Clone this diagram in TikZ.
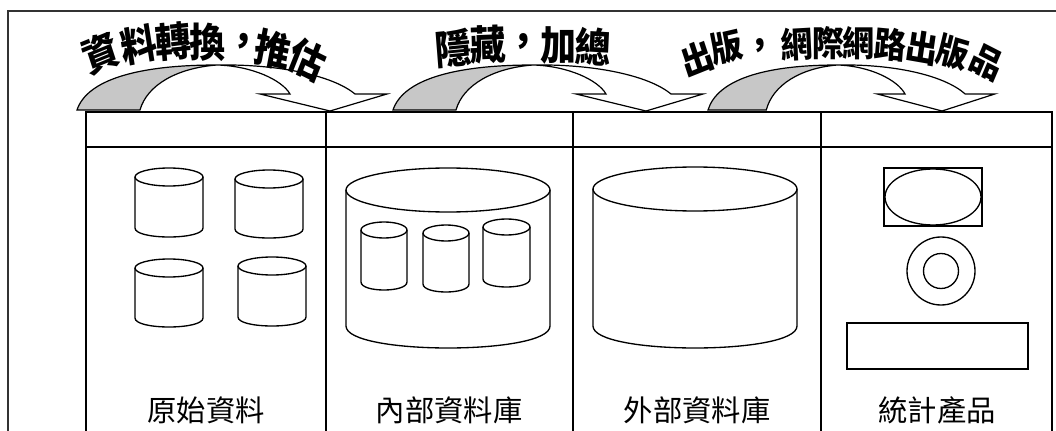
\documentclass[tikz,border=0pt]{standalone}
\usepackage{fontspec}
\newfontfamily\cjk{Noto Sans CJK TC}
\newfontfamily\cjkt{Noto Sans CJK TC}[Language=Chinese Traditional]
\newcommand\mkcyl[5]{%
  \draw[shp] (#1,#3) -- (#1,#4) .. controls (#1,{#4+1.333*#5}) and (#2,{#4+1.333*#5}) .. (#2,#4) -- (#2,#3);
  \draw[shp] ({(#1+#2)/2},#3) ellipse [x radius={(#2-#1)/2}, y radius=#5];}
\tikzset{
  curvarrow/.pic={
    \fill[black!22] (0,110) .. controls (10,80) and (60,65) .. (140,65) .. controls (100,68) and (70,85) .. (63,110) -- cycle;
    \fill[white] (140,65) .. controls (200,64) and (255,75) .. (278,94) -- (310,94) -- (253,111) -- (183,94) -- (213,94) .. controls (205,80) and (175,66) .. (140,65) -- cycle;
    \draw[arw] (0,110) .. controls (10,80) and (60,65) .. (140,65) .. controls (200,64) and (255,75) .. (278,94) -- (310,94) -- (253,111) -- (183,94) -- (213,94) .. controls (205,80) and (175,66) .. (140,65) .. controls (100,68) and (70,85) .. (63,110) -- cycle;
  }}
\begin{document}
\begin{tikzpicture}[x=0.75pt,y=-0.75pt,
  frame/.style={line width=1.5pt, black!80},
  tbl/.style={line width=1.5pt},
  shp/.style={line width=1pt},
  arw/.style={line width=0.9pt, line join=miter},
  wa/.style={font=\cjkt\bfseries\fontsize{27}{27}\selectfont, inner sep=0pt, yscale=1.12},
  wb/.style={font=\cjkt\bfseries\fontsize{24}{24}\selectfont, inner sep=0pt, yscale=1.1},
  lab/.style={font=\cjk\fontsize{22}{22}\selectfont, inner sep=0pt}]
\clip (0,0) rectangle (1056,431);
\fill[white] (0,0) rectangle (1056,431);
% outer frame
\draw[frame] (8,445) -- (8,11) -- (1070,11);
% table
\draw[tbl] (86,445) -- (86,112) -- (1052,112) -- (1052,445);
\draw[tbl] (86,147) -- (1052,147);
\foreach \x in {326,573,821} \draw[tbl] (\x,112) -- (\x,445);
% curved arrows
\path (77,0) pic {curvarrow};
\path (393,0) pic {curvarrow};
\path (708,0) pic[xscale=0.925] {curvarrow};
% arched labels
\node[wa,rotate=20] (a1) at (101,53) {資};
\node[wa,rotate=10] (a2) at (139,45) {料};
\node[wa,rotate=5] (a3) at (173,42) {轉};
\node[wa,rotate=0] (a4) at (207,42) {換};
\node[wa,rotate=-5] (a5) at (243,44) {，};
\node[wa,rotate=-12] (a6) at (273,50) {推};
\node[wa,rotate=-24] (a7) at (308,60) {估};
\node[wa,rotate=5] (b1) at (453,48) {隱};
\node[wa,rotate=2] (b2) at (488,45) {藏};
\node[wa] (b3) at (523,44) {，};
\node[wa] (b4) at (558,45) {加};
\node[wa,rotate=-3] (b5) at (593,47) {總};
\node[wb,rotate=20] (c1) at (697,59) {出};
\node[wb,rotate=12] (c2) at (727,47) {版};
\node[wb,rotate=6] (c3) at (760,48) {，};
\node[wb,rotate=3] (c4) at (797,44) {網};
\node[wb] (c5) at (828,43) {際};
\node[wb] (c6) at (858,43) {網};
\node[wb,rotate=-5] (c7) at (890,45) {路};
\node[wb,rotate=-9] (c8) at (922,48) {出};
\node[wb,rotate=-15] (c9) at (953,53) {版};
\node[wb,rotate=-25] (c10) at (987,62) {品};
% column 1: four cylinders
\mkcyl{135}{203}{177}{228}{9}
\mkcyl{235}{303}{179}{229}{9}
\mkcyl{135}{203}{268}{318}{9}
\mkcyl{238}{306}{266}{317}{9}
% column 2
\mkcyl{346}{550}{190}{326}{22}
\mkcyl{361}{407}{230}{282}{8}
\mkcyl{423}{469}{233}{284}{8}
\mkcyl{483}{530}{227}{279}{8}
% column 3
\mkcyl{593}{797}{189}{326}{22}
% column 4
\draw[line width=0.8pt] (884,168) rectangle (982,226);
\draw[shp] (933,197) ellipse [x radius=48, y radius=28];
\draw[shp] (941,271) circle [radius=34];
\draw[shp] (941,271) circle [radius=17.5];
\draw[shp] (847,323) rectangle (1028,369);
% column labels
\node[lab] (l1) at (206,410) {原始資料};
\node[lab] (l2) at (449,410) {內部資料庫};
\node[lab] (l3) at (697,410) {外部資料庫};
\node[lab] (l4) at (937,410) {統計產品};
\end{tikzpicture}
\end{document}
